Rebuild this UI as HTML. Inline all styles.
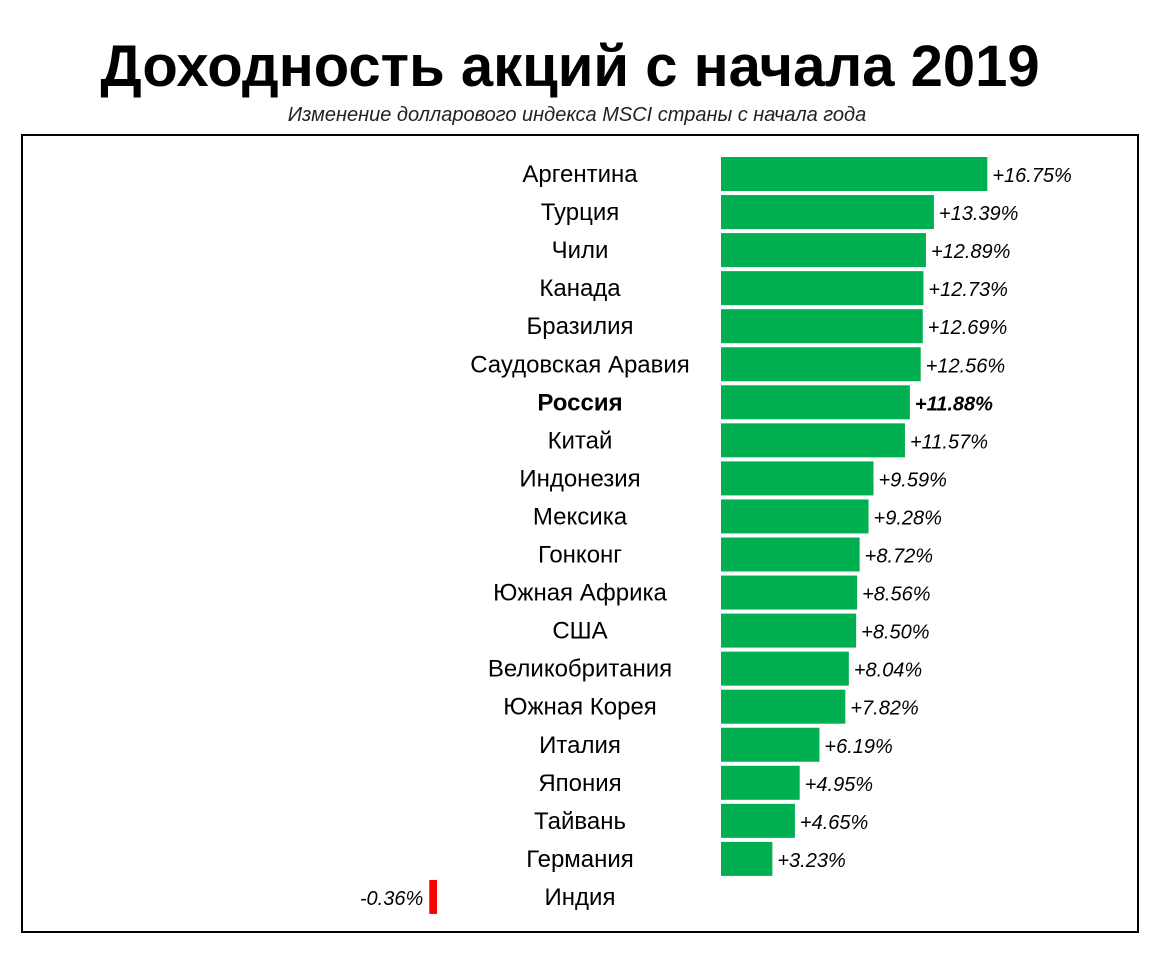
<!DOCTYPE html>
<html><head><meta charset="utf-8"><style>
body{margin:0;background:#fff;width:1159px;height:952px;overflow:hidden;font-family:"Liberation Sans",sans-serif}
</style></head><body>
<svg width="1159" height="952" xmlns="http://www.w3.org/2000/svg">
<text x="570" y="86" text-anchor="middle" font-family="Liberation Sans, sans-serif" font-weight="bold" font-size="58" fill="#000">Доходность акций с начала 2019</text>
<text x="577" y="121" text-anchor="middle" font-family="Liberation Sans, sans-serif" font-style="italic" font-size="20" fill="#222">Изменение долларового индекса MSCI страны с начала года</text>
<rect x="22" y="135" width="1116" height="797" fill="none" stroke="#000" stroke-width="2"/>
<g id="bars"></g>
</svg>
<script>
const categories=["Аргентина","Турция","Чили","Канада","Бразилия","Саудовская Аравия","Россия","Китай","Индонезия","Мексика","Гонконг","Южная Африка","США","Великобритания","Южная Корея","Италия","Япония","Тайвань","Германия","Индия"];
const values=[16.75,13.39,12.89,12.73,12.69,12.56,11.88,11.57,9.59,9.28,8.72,8.56,8.50,8.04,7.82,6.19,4.95,4.65,3.23,-0.36];
const valueLabels=["+16.75%","+13.39%","+12.89%","+12.73%","+12.69%","+12.56%","+11.88%","+11.57%","+9.59%","+9.28%","+8.72%","+8.56%","+8.50%","+8.04%","+7.82%","+6.19%","+4.95%","+4.65%","+3.23%","-0.36%"];
const highlight="Россия";
const NS="http://www.w3.org/2000/svg";
const g=document.getElementById('bars');
const x0=721, pxPer=15.9, negEnd=437, yTop=174, step=38.05, bh=34;
const xs=v=>Math.abs(v)*pxPer;
function mk(t,a){const e=document.createElementNS(NS,t);for(const k in a)e.setAttribute(k,a[k]);g.appendChild(e);return e;}
categories.forEach((c,i)=>{
 const v=values[i], cy=yTop+i*step, bold=c===highlight;
 const lab=mk('text',{x:580,y:cy+8,'text-anchor':'middle','font-size':24,'font-family':'Liberation Sans, sans-serif','font-weight':bold?'bold':'normal'});
 lab.textContent=c;
 
 
 let r, vl;
 if(v>=0){
  const w=Math.max(xs(v),1);
  r=mk('rect',{x:x0,y:cy-bh/2,width:w,height:bh,fill:'#00b050'});
  vl=mk('text',{x:x0+w+5,y:cy+8,'font-size':20,'font-style':'italic','font-family':'Liberation Sans, sans-serif','font-weight':bold?'bold':'normal'});
 } else {
  const w=Math.max(xs(v)+2,2);
  r=mk('rect',{x:negEnd-w,y:cy-bh/2,width:w,height:bh,fill:'#ff0000'});
  vl=mk('text',{x:negEnd-w-6,y:cy+8,'text-anchor':'end','font-size':20,'font-style':'italic','font-family':'Liberation Sans, sans-serif'});
 }
 
 
 vl.textContent=valueLabels[i];
 
 
});
</script>
</body></html>
